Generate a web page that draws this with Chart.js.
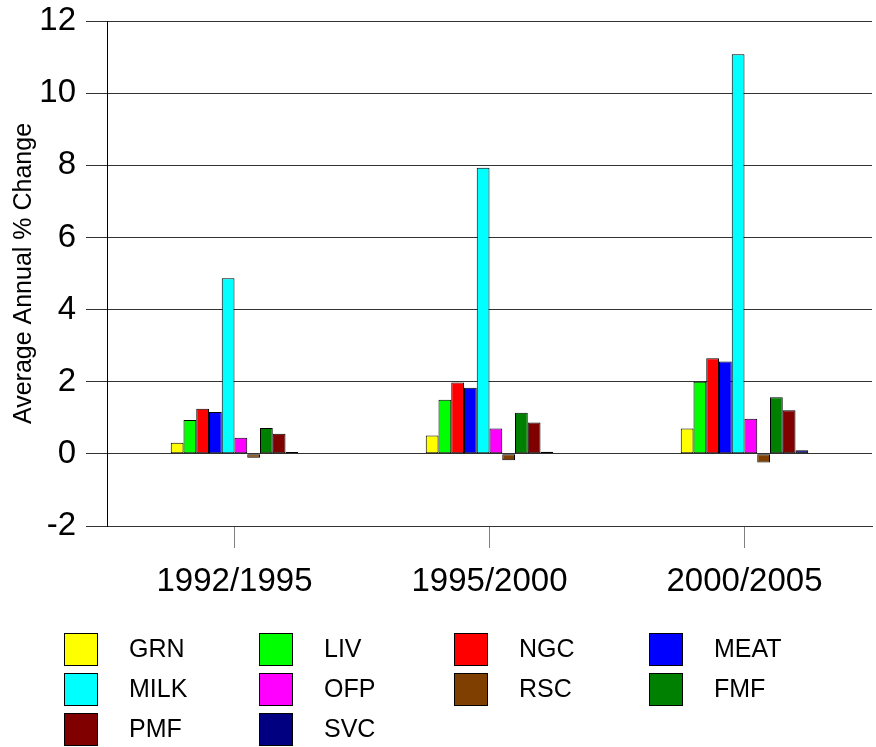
<!DOCTYPE html>
<html>
<head>
<meta charset="utf-8">
<script src="https://cdn.jsdelivr.net/npm/chart.js@4/dist/chart.umd.min.js"></script>
<style>
  html, body { margin: 0; padding: 0; background: #fff; }
  #wrap { width: 876px; height: 747px; }
</style>
</head>
<body>
<div id="wrap"><canvas id="chart"></canvas></div>
<script>
const periods = ["1992/1995", "1995/2000", "2000/2005"];
const sectors = ["GRN", "LIV", "NGC", "MEAT", "MILK", "OFP", "RSC", "FMF", "PMF", "SVC"];
const sectorColors = ["#ffff00", "#00ff00", "#ff0000", "#0000ff", "#00ffff",
                      "#ff00ff", "#7f3f00", "#008000", "#800000", "#000080"];

// average annual % change, one row per sector: [1992/1995, 1995/2000, 2000/2005]
const grn  = [0.31, 0.51, 0.70];
const liv  = [0.94, 1.50, 2.00];
const ngc  = [1.25, 1.98, 2.65];
const meat = [1.16, 1.83, 2.56];
const milk = [4.87, 7.93, 11.08];
const ofp  = [0.45, 0.70, 0.97];
const rsc  = [-0.11, -0.18, -0.24];
const fmf  = [0.72, 1.14, 1.57];
const pmf  = [0.56, 0.87, 1.21];
const svc  = [0.05, 0.06, 0.10];
const seriesValues = [grn, liv, ngc, meat, milk, ofp, rsc, fmf, pmf, svc];

const yTicks = [-2, 0, 2, 4, 6, 8, 10, 12];

const FONT = "'Liberation Sans', Arial, sans-serif";

// legend drawn under the plot in a fixed 4-column grid
const gridLegend = {
  id: "gridLegend",
  afterDraw(chart) {
    const ctx = chart.ctx;
    ctx.save();
    ctx.font = "25px " + FONT;
    ctx.textBaseline = "middle";
    ctx.textAlign = "left";
    chart.data.datasets.forEach((ds, i) => {
      const col = i % 4, row = Math.floor(i / 4);
      const x = 64 + col * 195;
      const y = 633 + row * 40;
      ctx.fillStyle = ds.backgroundColor;
      ctx.fillRect(x, y, 33, 32);
      ctx.strokeStyle = "#000";
      ctx.lineWidth = 1;
      ctx.strokeRect(x + 0.5, y + 0.5, 33, 32);
      ctx.fillStyle = "#000";
      ctx.fillText(ds.label, x + 65, y + 17);
    });
    ctx.restore();
  }
};

new Chart(document.getElementById("chart"), {
  type: "bar",
  data: {
    labels: periods,
    datasets: sectors.map((s, i) => ({
      label: s,
      data: seriesValues[i],
      backgroundColor: sectorColors[i],
      borderColor: "#000",
      borderWidth: 1,
      borderSkipped: false,
      categoryPercentage: 0.5,
      barPercentage: 1.0
    }))
  },
  options: {
    responsive: true,
    maintainAspectRatio: false,
    animation: false,
    layout: { padding: { top: 21, right: 4, left: 0, bottom: 0 } },
    plugins: {
      legend: { display: false },
      tooltip: { enabled: false }
    },
    scales: {
      x: {
        afterFit(scale) {
          scale.height = 221;
          scale.paddingLeft = 0;
          scale.paddingRight = 0;
        },
        grid: {
          offset: false,
          drawOnChartArea: false,
          drawTicks: true,
          tickLength: 22,
          color: "#808080"
        },
        border: { color: "#333", width: 1 },
        ticks: {
          color: "#000",
          padding: 14,
          font: { family: FONT, size: 33 }
        }
      },
      y: {
        min: -2,
        max: 12,
        afterFit(scale) {
          scale.width = 107;
          scale.paddingTop = 0;
          scale.paddingBottom = 0;
        },
        afterBuildTicks(scale) { scale.ticks = yTicks.map(v => ({ value: v })); },
        grid: {
          color: "#333",
          tickLength: 21
        },
        border: { color: "#000", width: 1 },
        ticks: {
          color: "#000",
          padding: 10,
          font: { family: FONT, size: 33 }
        },
        title: {
          display: true,
          text: "Average Annual % Change",
          color: "#000",
          padding: { top: 9, bottom: 0 },
          font: { family: FONT, size: 25 }
        }
      }
    }
  },
  plugins: [gridLegend]
});
</script>
</body>
</html>
